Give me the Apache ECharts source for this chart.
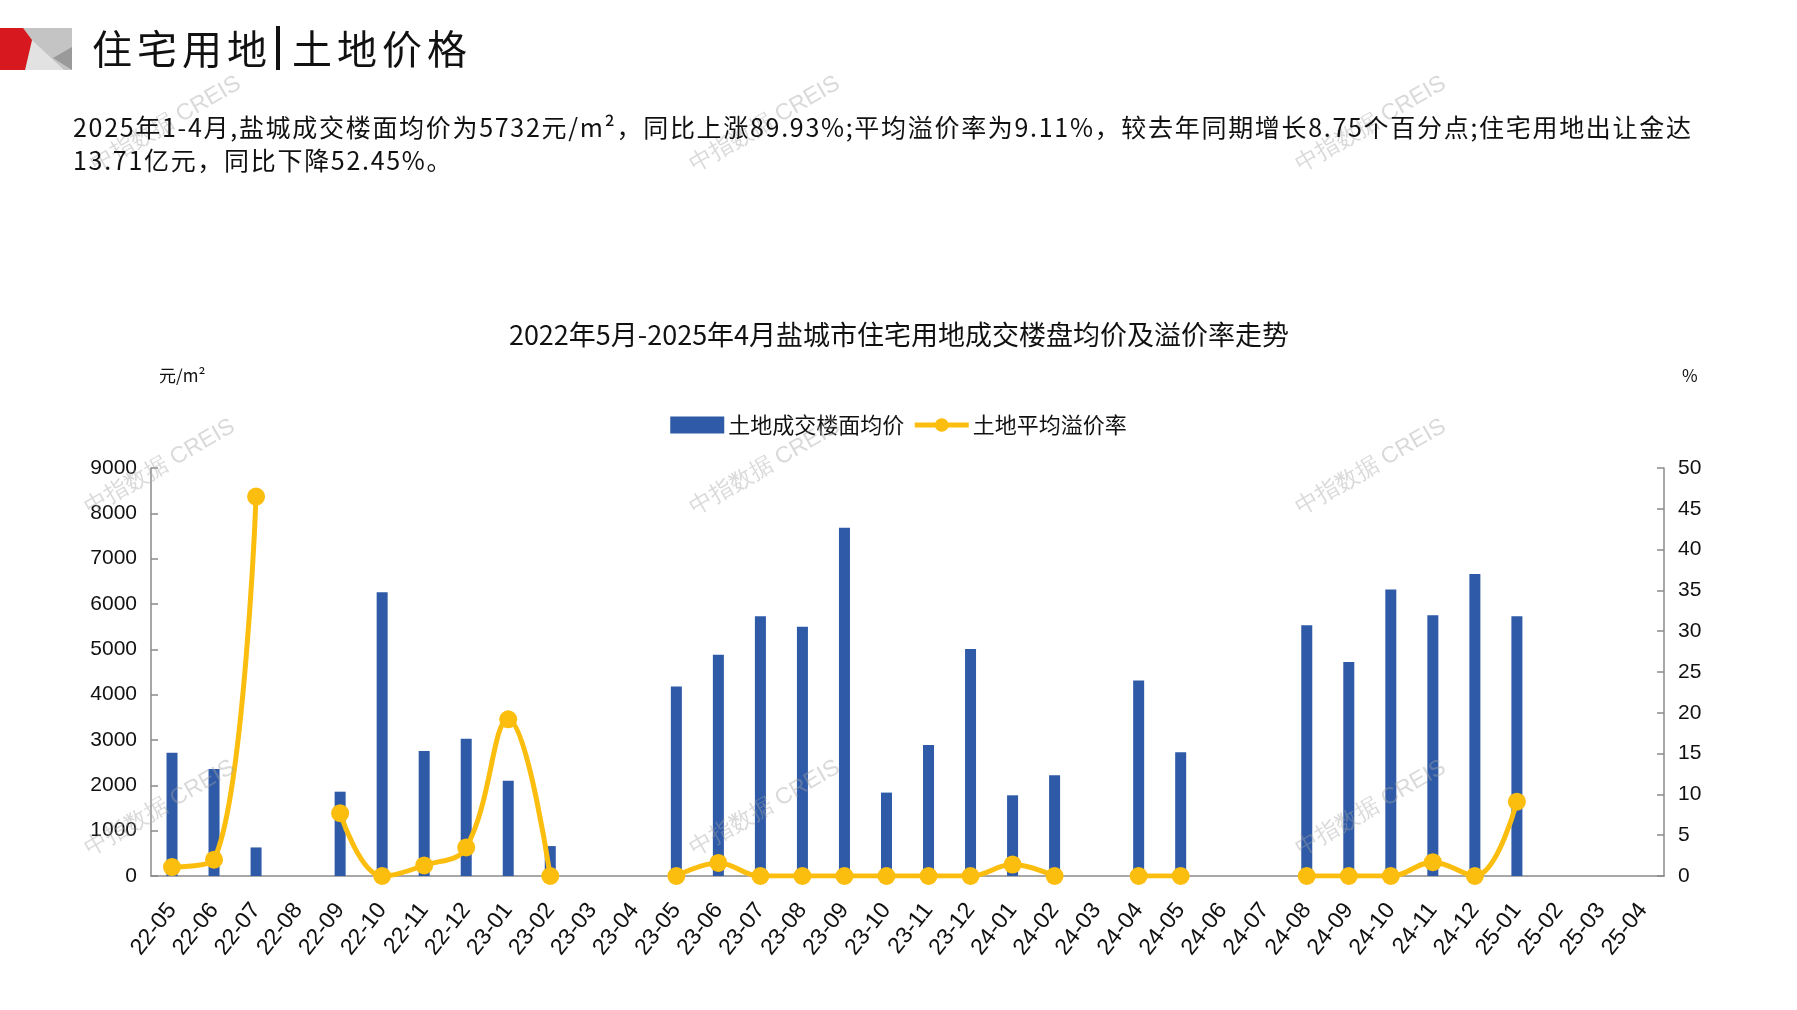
<!DOCTYPE html>
<html>
<head>
<meta charset="utf-8">
<script src="https://cdn.jsdelivr.net/npm/echarts@6/dist/echarts.min.js"></script>
<style>
  html, body { margin: 0; padding: 0; background: #fff; }
  #chart { position: absolute; left: 0; top: 0; width: 1797px; height: 1010px; }
  .hdr { position: absolute; font-family: "Noto Sans CJK SC", sans-serif; color: #111; white-space: nowrap; z-index: 2; }
  #pageTitle { left: 92px; top: 20px; font-size: 40px; letter-spacing: 5px; line-height: 54px; }
  #pageTitle .sep { display: inline-block; width: 4px; height: 44px; background: #111; vertical-align: -6px; margin: 0 12px 0 4px; }
  #para { left: 73px; top: 110px; font-size: 25px; letter-spacing: 1.7px; line-height: 33px; }
</style>
</head>
<body>
<div id="chart"></div>
<div class="hdr" id="pageTitle">住宅用地<span class="sep"></span>土地价格</div>
<div class="hdr" id="para">2025年1-4月,盐城成交楼面均价为5732元/m²，同比上涨89.93%;平均溢价率为9.11%，较去年同期增长8.75个百分点;住宅用地出让金达<br>13.71亿元，同比下降52.45%。</div>
<script>
// ---- data ----
const categories = ['22-05','22-06','22-07','22-08','22-09','22-10','22-11','22-12',
  '23-01','23-02','23-03','23-04','23-05','23-06','23-07','23-08','23-09','23-10','23-11','23-12',
  '24-01','24-02','24-03','24-04','24-05','24-06','24-07','24-08','24-09','24-10','24-11','24-12',
  '25-01','25-02','25-03','25-04'];
const floorPrice = [2720, 2360, 630, null, 1860, 6260, 2760, 3030,
  2100, 660, null, null, 4180, 4880, 5730, 5500, 7680, 1840, 2890, 5010,
  1780, 2220, null, 4310, 2730, null, null, 5530, 4720, 6320, 5750, 6660,
  5732, null, null, null];
const premiumRate = [1.1, 2.0, 46.5, null, 7.7, 0, 1.3, 3.5,
  19.2, 0, null, null, 0, 1.6, 0, 0, 0, 0, 0, 0,
  1.4, 0, null, 0, 0, null, null, 0, 0, 0, 1.7, 0,
  9.11, null, null, null];
const leftTicks = { min: 0, max: 9000, interval: 1000 };
const rightTicks = { min: 0, max: 50, interval: 5 };
const chartTitle = '2022年5月-2025年4月盐城市住宅用地成交楼盘均价及溢价率走势';
const seriesNames = ['土地成交楼面均价', '土地平均溢价率'];
const watermark = '中指数据 CREIS';

const CJK = '"Noto Sans CJK SC", sans-serif';
const NUM = '"Liberation Sans", Arial, sans-serif';
const axisGray = '#8a8a8a';
const barColor = '#2E5AA7';
const lineColor = '#FBBD0E';

const wmPos = [[166,124],[765,124],[1371,124],[160,467],[765,467],[1371,467],[160,808],[765,808],[1371,808]];
const graphics = [
  { type: 'polygon', shape: { points: [[23,28],[72,28],[72,70],[23,70]] }, style: { fill: '#c4c4c4' } },
  { type: 'polygon', shape: { points: [[32,40],[25,70],[64,70]] }, style: { fill: '#e2e2e2' } },
  { type: 'polygon', shape: { points: [[72,47],[72,70],[53,58]] }, style: { fill: '#9a9a9a' } },
  { type: 'polygon', shape: { points: [[0,28],[23,28],[32,40],[25,70],[0,70]] }, style: { fill: '#d7191f' } }
];
wmPos.forEach(p => graphics.push({
  type: 'text', x: p[0], y: p[1], rotation: Math.PI * 30 / 180, z: 100,
  style: { text: watermark, fill: 'rgba(165,165,165,0.42)', font: '23px ' + NUM, textAlign: 'center', textVerticalAlign: 'middle' }
}));

const chart = echarts.init(document.getElementById('chart'));
chart.setOption({
  backgroundColor: '#fff',
  animation: false,
  title: {
    text: chartTitle, left: 894, top: 316, textAlign: 'center',
    textStyle: { fontFamily: CJK, fontSize: 27, fontWeight: 'normal', color: '#111' }
  },
  legend: {
    data: [{ name: seriesNames[0], icon: 'rect' }, { name: seriesNames[1] }],
    left: 'center', top: 409, itemWidth: 54, itemHeight: 17, itemGap: 8,
    lineStyle: { width: 5 },
    textStyle: { fontFamily: CJK, fontSize: 22, color: '#111', padding: [0,0,0,-1] }
  },
  grid: { left: 151, right: 133, top: 468, bottom: 134, containLabel: false },
  xAxis: {
    type: 'category', data: categories,
    axisLine: { lineStyle: { color: axisGray, width: 1.5 } },
    axisTick: { inside: true, length: 7, alignWithLabel: false, lineStyle: { color: axisGray, width: 1.5 } },
    axisLabel: { interval: 0, rotate: 52, margin: 30, fontFamily: NUM, fontSize: 23, color: '#111' }
  },
  yAxis: [
    {
      type: 'value', min: leftTicks.min, max: leftTicks.max, interval: leftTicks.interval,
      name: '元/m²', nameLocation: 'end', nameGap: 84,
      nameTextStyle: { fontFamily: CJK, fontSize: 17, color: '#111', align: 'left', padding: [0,0,0,8] },
      axisLine: { show: true, lineStyle: { color: axisGray, width: 1.5 } },
      axisTick: { show: true, inside: true, length: 7, lineStyle: { color: axisGray, width: 1.5 } },
      axisLabel: { fontFamily: NUM, fontSize: 21, color: '#111', margin: 14, formatter: v => String(v) },
      splitLine: { show: false }
    },
    {
      type: 'value', min: rightTicks.min, max: rightTicks.max, interval: rightTicks.interval,
      name: '%', nameLocation: 'end', nameGap: 84,
      nameTextStyle: { fontFamily: CJK, fontSize: 17, color: '#111', align: 'left', padding: [0,0,0,18] },
      axisLine: { show: true, lineStyle: { color: axisGray, width: 1.5 } },
      axisTick: { show: true, inside: true, length: 7, lineStyle: { color: axisGray, width: 1.5 } },
      axisLabel: { fontFamily: NUM, fontSize: 21, color: '#111', margin: 14, formatter: v => String(v) },
      splitLine: { show: false }
    }
  ],
  series: [
    {
      name: seriesNames[0], type: 'bar', yAxisIndex: 0, data: floorPrice, barWidth: 11,
      itemStyle: { color: barColor }
    },
    {
      name: seriesNames[1], type: 'line', yAxisIndex: 1, data: premiumRate,
      smooth: 0.4, connectNulls: false, symbol: 'circle', symbolSize: 18,
      lineStyle: { color: lineColor, width: 5 }, itemStyle: { color: lineColor }, z: 5
    }
  ],
  graphic: graphics
});
</script>
</body>
</html>
